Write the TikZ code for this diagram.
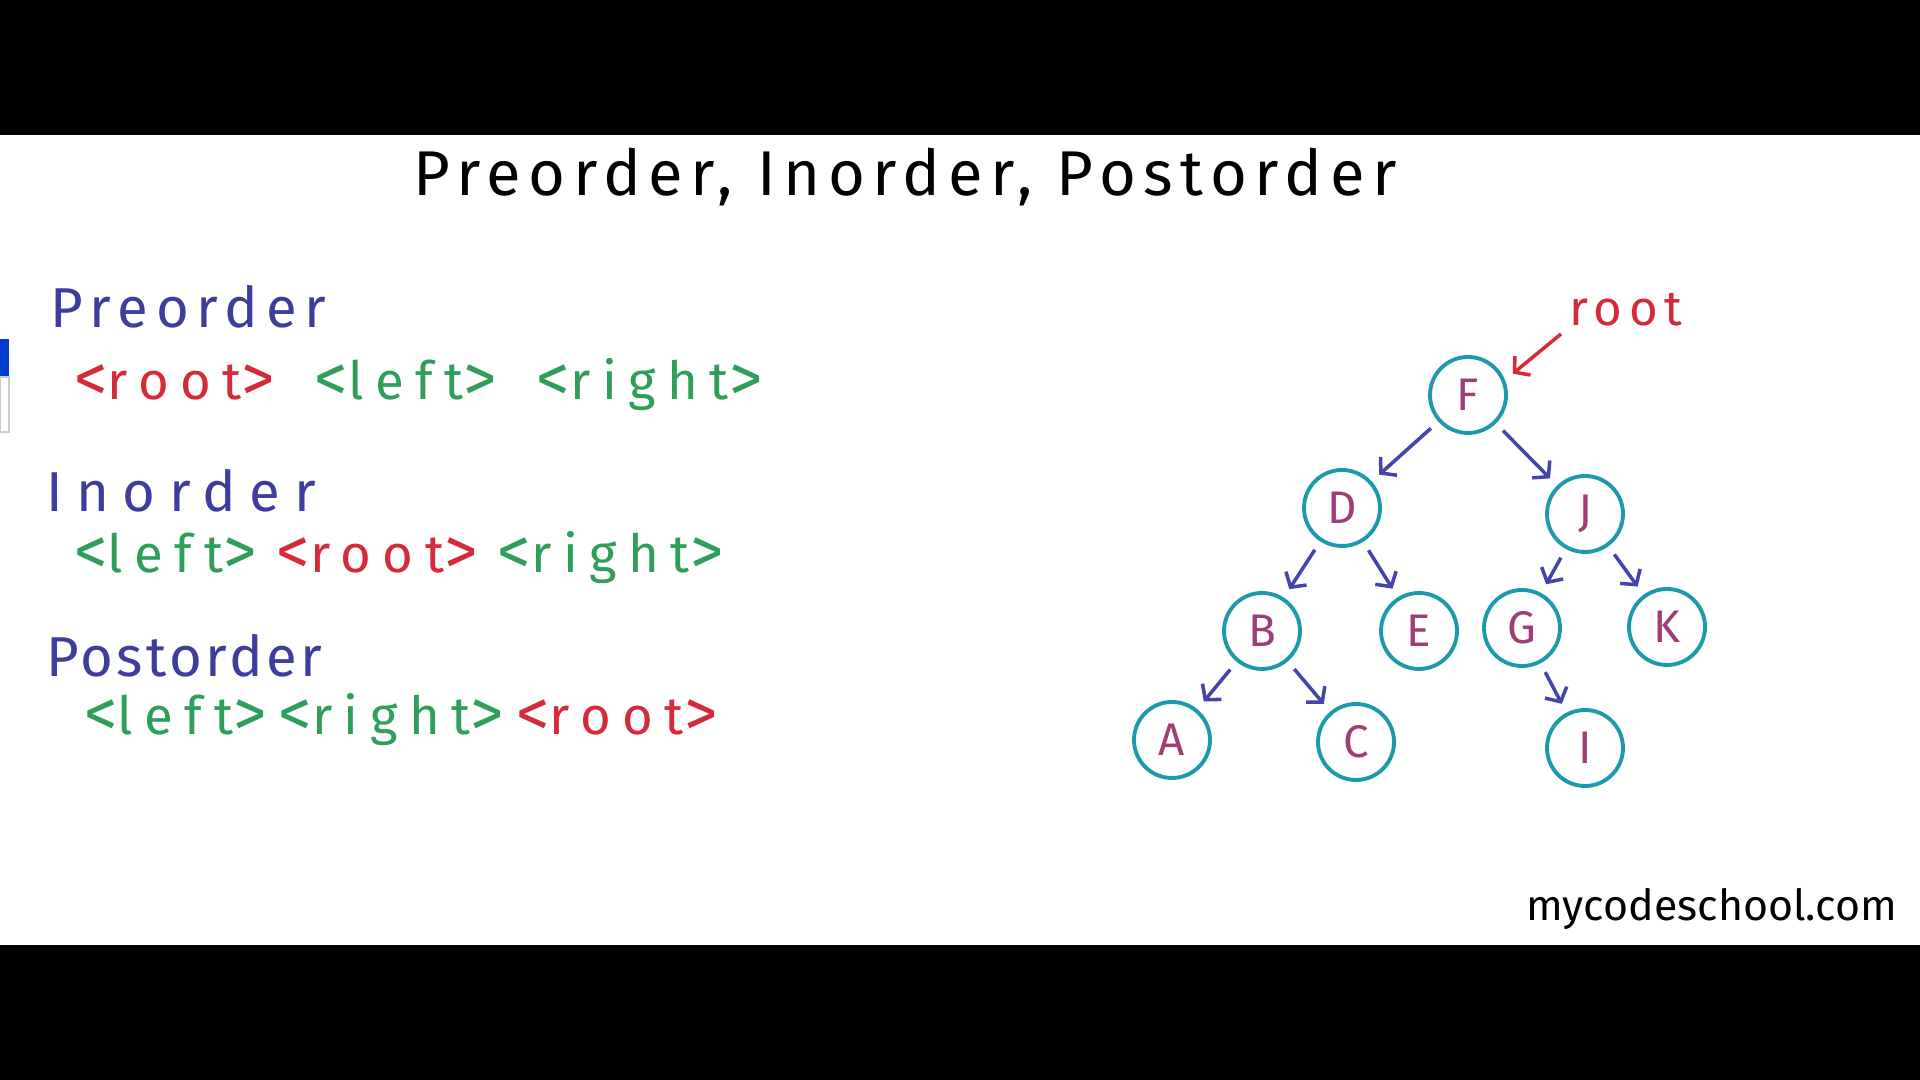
\documentclass[tikz,border=0pt]{standalone}
\usepackage{fontspec}
\setmainfont{Fira Sans}
\newfontfamily\titlefont[LetterSpace=12]{Fira Sans}
\newfontfamily\handfont[LetterSpace=14]{Fira Sans}
\newfontfamily\markfont{Fira Sans}
\usetikzlibrary{arrows.meta, positioning}
\definecolor{penblue}{HTML}{3D3D9E}
\definecolor{penred}{HTML}{D42A3A}
\definecolor{pengreen}{HTML}{2E9E5A}
\definecolor{nodeteal}{HTML}{1C9AAB}
\definecolor{nodeink}{HTML}{A03C78}
\definecolor{arrowink}{HTML}{4444AA}
\tikzset{
  treearr/.style = {-{Straight Barb[length=3pt, width=7pt]}, line width=1pt, draw=arrowink,
                    shorten <=0.1cm, shorten >=0.1cm},
  rootarr/.style = {-{Straight Barb[length=3pt, width=7pt]}, line width=1pt, draw=penred},
  %% Tree node and text presets
  tnode/.style   = {circle, draw=nodeteal, line width=1.1pt, minimum size=0.76cm, inner sep=0pt,
                    text=nodeink, font=\handfont\fontsize{13}{13}\selectfont},
  heading/.style = {anchor=base west, inner sep=0pt, text=penblue, font=\handfont\fontsize{16}{16}\selectfont},
  orderln/.style = {anchor=base west, inner sep=0pt,
                    font=\handfont\addfontfeatures{LetterSpace=22}\fontsize{15}{15}\selectfont},
}
%% big hand-drawn chevrons
\newcommand{\lb}{{\fontsize{19}{15}\selectfont\raisebox{-0.5pt}{<}}}
\newcommand{\rb}{{\fontsize{19}{15}\selectfont\raisebox{-0.5pt}{>}}}
\newcommand{\rt}{\textcolor{penred}{\lb root\rb}}
\newcommand{\lf}{\textcolor{pengreen}{\lb left\rb}}
\newcommand{\rg}{\textcolor{pengreen}{\lb right\rb}}

\begin{document}
\begin{tikzpicture}[line width=0.8pt, >=Stealth]

%% ---- Frame: white page with black bars ----
\fill[white] (0,0) rectangle (19.2,10.8);
\fill[black] (0,9.45) rectangle (19.2,10.8);
\fill[black] (0,0) rectangle (19.2,1.35);
\useasboundingbox (0,0) rectangle (19.2,10.8);

%% left edge tab
\fill[blue!70!cyan!80!black] (0,7.03) rectangle (0.09,7.41);
\draw[gray!40, line width=0.6pt] (0,6.48) rectangle (0.09,7.03);

%% ---- Title ----
\node[anchor=base, inner sep=0pt, font=\titlefont\fontsize{18}{18}\selectfont] (title) at (9.05,8.84)
  {Preorder, Inorder, Postorder};

%% ---- (1) Preorder ----
\node[heading] (pre)     at (0.49,7.52) {Preorder};
\node[orderln] (preline) at (0.73,6.80) {\makebox[6.88cm]{\rt\hfill\lf\hfill\rg}};

%% ---- (2) Inorder ----
\node[heading] (in)     at (0.45,5.68) {\addfontfeatures{LetterSpace=24}Inorder};
\node[orderln] (inline) at (0.73,5.07) {\makebox[6.49cm]{\lf\hfill\rt\hfill\rg}};

%% ---- (3) Postorder ----
\node[heading] (post)     at (0.45,4.03) {\addfontfeatures{LetterSpace=6}Postorder};
\node[orderln] (postline) at (0.83,3.45) {\makebox[6.33cm]{\lf\hfill\rg\hfill\rt}};

%% ---- Tree ----
\node[tnode] (F) at (14.68,6.85) {F};
\node[tnode] (D) at (13.42,5.72) {D};
\node[tnode] (J) at (15.85,5.66) {J};
\node[tnode] (B) at (12.62,4.49) {B};
\node[tnode] (E) at (14.19,4.49) {E};
\node[tnode] (G) at (15.22,4.52) {G};
\node[tnode] (K) at (16.67,4.53) {K};
\node[tnode] (A) at (11.72,3.40) {A};
\node[tnode] (C) at (13.56,3.38) {C};
\node[tnode] (I) at (15.85,3.32) {I};

\draw[treearr] (F) -- (D);
\draw[treearr] (F) -- (J);
\draw[treearr] (D) -- (B);
\draw[treearr] (D) -- (E);
\draw[treearr] (J) -- (G);
\draw[treearr] (J) -- (K);
\draw[treearr] (B) -- (A);
\draw[treearr] (B) -- (C);
\draw[treearr] (G) -- (I);

%% root marker
\node[text=penred, inner sep=0pt, font=\handfont\fontsize{14}{14}\selectfont] (rootlbl) at (16.26,7.70) {root};
\coordinate (rootfrom) at (15.61,7.46);
\draw[rootarr, shorten >=0.1cm] (rootfrom) -- (F.22);

%% ---- Watermark ----
\node[anchor=base west, inner sep=0pt, font=\markfont\fontsize{12.2}{12.2}\selectfont] (mark) at (15.25,1.59)
  {mycodeschool.com};

\end{tikzpicture}
\end{document}
